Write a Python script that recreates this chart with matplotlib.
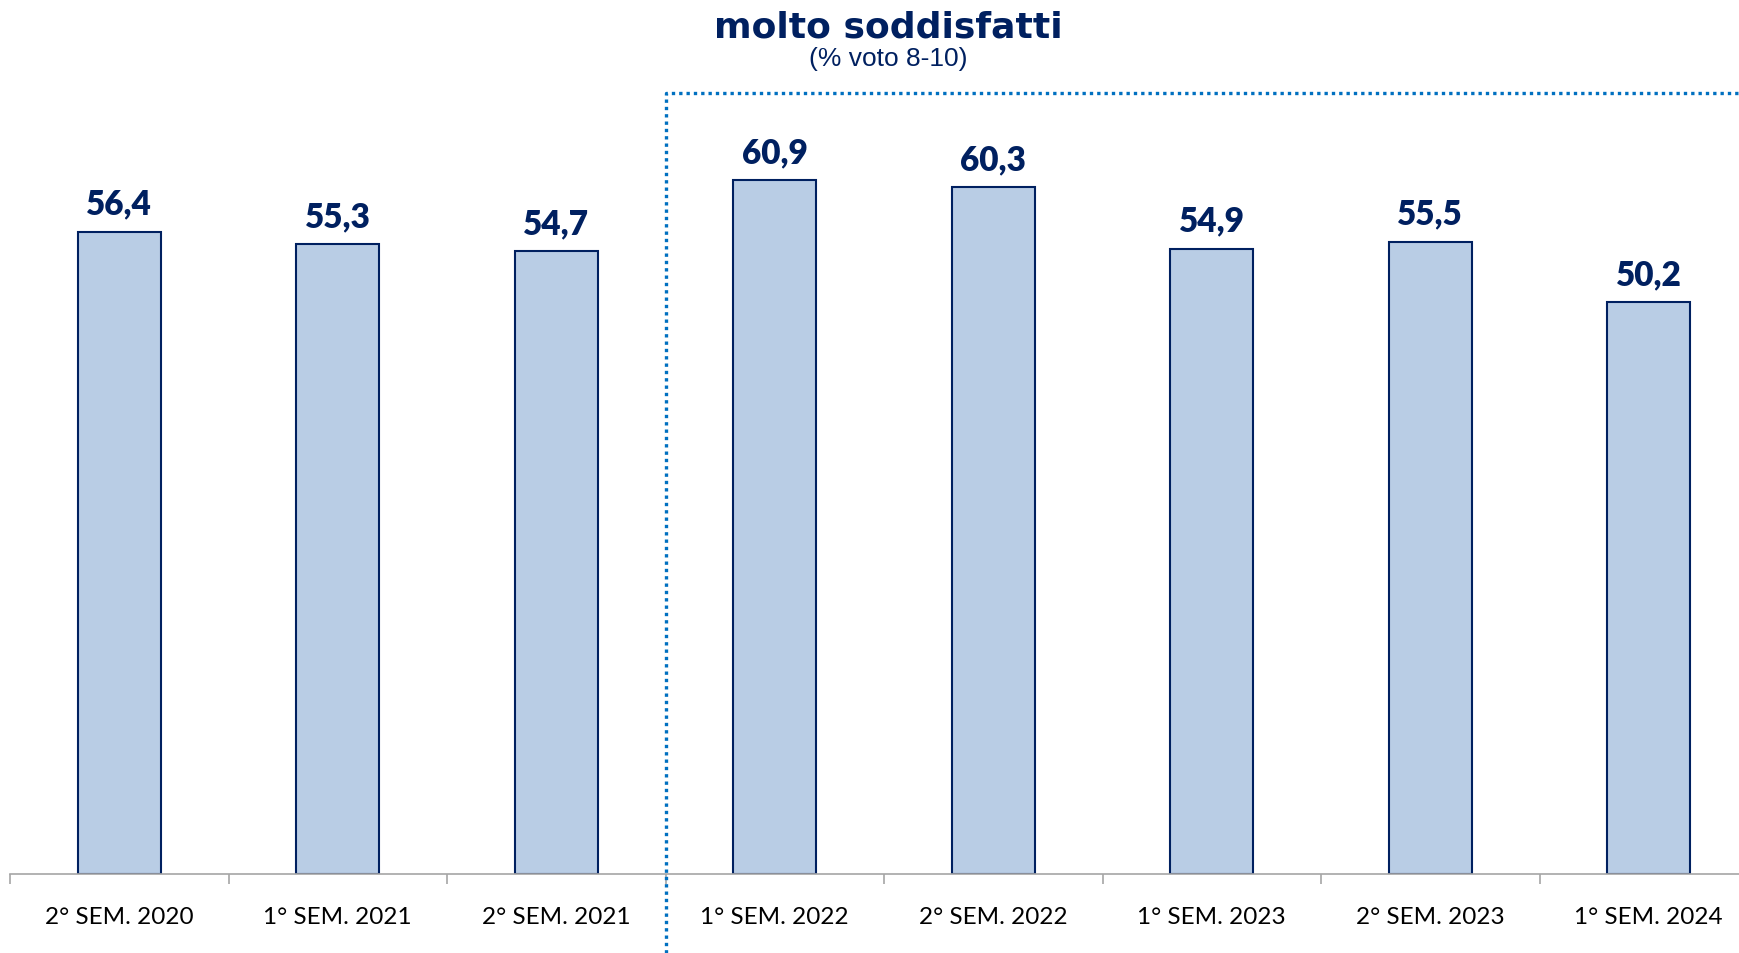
import numpy as np
import matplotlib.pyplot as plt

# Dati
categorie = ['2° SEM. 2020', '1° SEM. 2021', '2° SEM. 2021', '1° SEM. 2022',
             '2° SEM. 2022', '1° SEM. 2023', '2° SEM. 2023', '1° SEM. 2024']
valori = [56.4, 55.3, 54.7, 60.9, 60.3, 54.9, 55.5, 50.2]

navy = '#002060'
W, H = 1740, 954

fig = plt.figure(figsize=(W / 100, H / 100), dpi=100)
# l'asse si estende oltre il bordo destro (come nell'originale)
y0 = 875
ymax = 70
px_unit = 11.39
ax = fig.add_axes([10 / W, 1 - y0 / H, 8 * 218.5 / W, ymax * px_unit / H])

x = np.arange(len(categorie))
ax.bar(x, valori, width=0.38, color='#B9CDE5', edgecolor=navy, linewidth=1.5, zorder=2)

for xi, v in zip(x, valori):
    ax.annotate(f'{v:.1f}'.replace('.', ','), (xi, v), xytext=(0, 13),
                textcoords='offset points', ha='center', va='baseline',
                fontsize=24, fontweight='heavy', color=navy, family='Lato')

ax.set_xlim(-0.5, 7.5)
ax.set_ylim(0, ymax)
for s in ['top', 'right', 'left']:
    ax.spines[s].set_visible(False)
ax.spines['bottom'].set_color('#A6A6A6')
ax.spines['bottom'].set_linewidth(1.2)
ax.set_yticks([])
ax.set_xticks(np.arange(-0.5, 8, 1))
ax.set_xticklabels([])
ax.tick_params(axis='x', which='major', length=7, width=1.2, color='#A6A6A6')
ax.set_xticks(x, minor=True)
ax.set_xticklabels(categorie, minor=True, fontsize=17.5, family='Lato')
ax.tick_params(axis='x', which='minor', length=0, pad=23)

# riquadro tratteggiato
ytop = (y0 - 94) / px_unit
ybot = (y0 - H) / px_unit
ax.plot([2.5, 2.5, 7.6], [ybot, ytop, ytop], color='#0070C0', linestyle=(0, (1, 1.2)),
        linewidth=2.4, clip_on=False, zorder=3)

fig.text(888 / W, 1 - 27 / H, 'molto soddisfatti', ha='center', va='center',
         fontsize=26, fontweight='heavy', color=navy, family='DejaVu Sans')
fig.text(888 / W, 1 - 59 / H, '(% voto 8-10)', ha='center', va='center',
         fontsize=19, color=navy, family='Liberation Sans')

fig.savefig('out.png', dpi=100)
